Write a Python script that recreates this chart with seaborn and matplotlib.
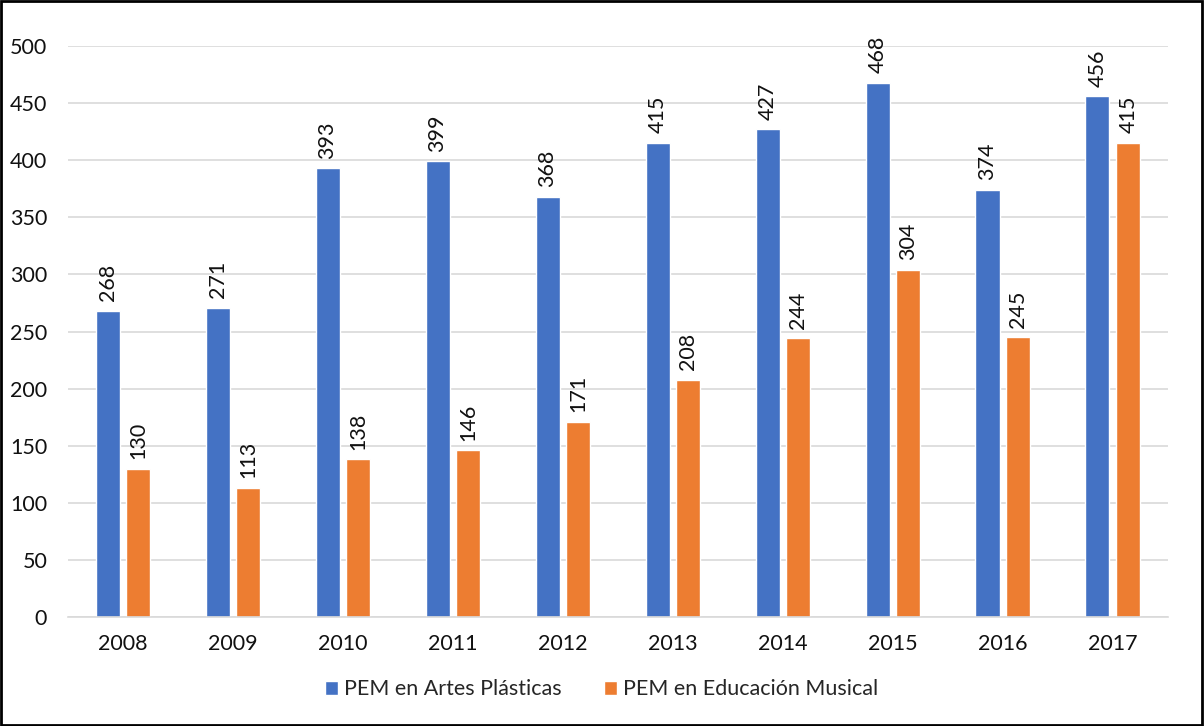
import numpy as np
import pandas as pd
import matplotlib
matplotlib.use("Agg")
import matplotlib.pyplot as plt
import seaborn as sns
from matplotlib.patches import Rectangle

# data
years = ["2008", "2009", "2010", "2011", "2012", "2013", "2014", "2015", "2016", "2017"]
artes = [268, 271, 393, 399, 368, 415, 427, 468, 374, 456]
musica = [130, 113, 138, 146, 171, 208, 244, 304, 245, 415]
series = ["PEM en Artes Plásticas", "PEM en Educación Musical"]
colors = ["#4472C4", "#ED7D31"]

df = pd.DataFrame({
    "year": years * 2,
    "value": artes + musica,
    "serie": [series[0]] * len(years) + [series[1]] * len(years),
})

sns.set_style("white")
plt.rcParams["font.family"] = ["Lato", "DejaVu Sans"]
fs = 15.5

fig = plt.figure(figsize=(12.04, 7.26), dpi=100)
ax = fig.add_axes([0.0565, 0.150, 0.9135, 0.7866])

sns.barplot(data=df, x="year", y="value", hue="serie", palette=colors,
            saturation=1, width=0.56, gap=0.22, ax=ax, legend=True)

ax.set_ylim(0, 500)
ax.set_yticks(range(0, 501, 50))
ax.yaxis.grid(True, color="#D9D9D9", linewidth=1.2)
ax.set_axisbelow(True)
for s in ["top", "right", "left"]:
    ax.spines[s].set_visible(False)
ax.spines["bottom"].set_color("#D9D9D9")
ax.spines["bottom"].set_linewidth(1.2)
ax.tick_params(axis="both", length=0, labelsize=fs, colors="#111111")
ax.tick_params(axis="y", pad=15)
ax.tick_params(axis="x", pad=12)
ax.set_xlabel("")
ax.set_ylabel("")

for cont in ax.containers:
    ax.bar_label(cont, labels=[f"{int(v)}" for v in cont.datavalues],
                 rotation=90, padding=7, fontsize=fs, color="#111111",
                 clip_on=False)

ax.legend(loc="upper center", bbox_to_anchor=(0.485, -0.075), ncol=2,
          frameon=False, fontsize=fs, handlelength=0.6, handleheight=0.6,
          handletextpad=0.25, columnspacing=2.0)

# outer border
fig.patches.append(Rectangle((0.001, 0.001), 0.997, 0.997, transform=fig.transFigure,
                             fill=False, edgecolor="black", linewidth=2))

fig.savefig("out.png", dpi=100)
